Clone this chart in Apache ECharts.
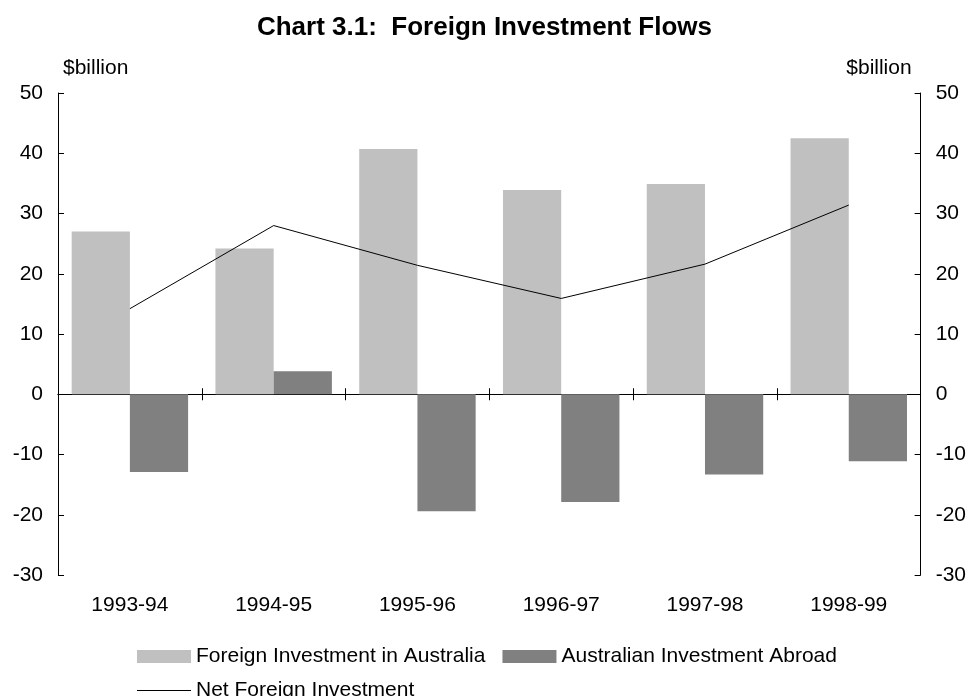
<!DOCTYPE html>
<html>
<head>
<meta charset="utf-8">
<script src="https://cdn.jsdelivr.net/npm/echarts@6/dist/echarts.min.js"></script>
<style>
  html, body { margin: 0; padding: 0; background: #fff; }
  #chart { width: 969px; height: 696px; }
</style>
</head>
<body>
<div id="chart"></div>
<script>
// 数据
var years = ["1993-94", "1994-95", "1995-96", "1996-97", "1997-98", "1998-99"];
var foreignInAus = [27.0, 24.2, 40.7, 33.9, 34.9, 42.5];
var ausAbroad = [-12.9, 3.8, -19.4, -17.9, -13.3, -11.1];
var netForeign = [14.2, 28.0, 21.4, 15.9, 21.6, 31.4];

var fontName = "'Liberation Sans', Arial, sans-serif";
var txt = { color: "#000", fontFamily: fontName, fontSize: 21 };

// x轴：一个放标签，两个画零线上的刻度（上下各一段）
function zeroAxis(inside) {
  return {
    type: "category",
    data: years,
    position: "bottom",
    axisLine: { show: true, onZero: true, onZeroAxisIndex: 0, lineStyle: { color: "#000", width: 1 } },
    axisTick: { show: true, inside: inside, length: 6, interval: 0, lineStyle: { color: "#000" } },
    axisLabel: { show: false },
    splitLine: { show: false }
  };
}

function valueAxis(pos) {
  return {
    type: "value",
    position: pos,
    min: -30,
    max: 50,
    interval: 10,
    name: "$billion",
    nameLocation: "end",
    nameGap: 14,
    nameTextStyle: Object.assign({}, txt, {
      align: pos == "left" ? "left" : "right",
      padding: pos == "left" ? [0, 0, 0, 5] : [0, 9, 0, 0]
    }),
    axisLine: { show: true, lineStyle: { color: "#000", width: 1 } },
    axisTick: { show: true, inside: true, length: 6, lineStyle: { color: "#000" } },
    axisLabel: Object.assign({}, txt, { margin: 15 }),
    splitLine: { show: false }
  };
}

var option = {
  animation: false,
  backgroundColor: "#fff",
  title: {
    text: "Chart 3.1:  Foreign Investment Flows",
    left: "center",
    top: 10,
    textStyle: { color: "#000", fontFamily: fontName, fontSize: 26, fontWeight: "bold" }
  },
  grid: { left: 58, right: 48, top: 93, bottom: 121 },
  legend: [
    {
      data: ["Foreign Investment in Australia", "Australian Investment Abroad"],
      left: 132,
      top: 641,
      itemWidth: 54,
      itemHeight: 13,
      itemGap: 17,
      icon: "rect",
      textStyle: txt
    },
    {
      data: ["Net Foreign Investment"],
      left: 132,
      top: 675,
      itemWidth: 54,
      itemHeight: 1,
      icon: "rect",
      textStyle: txt
    }
  ],
  xAxis: [
    {
      type: "category",
      data: years,
      position: "bottom",
      axisLine: { show: false, onZero: false },
      axisTick: { show: false },
      axisLabel: Object.assign({}, txt, { margin: 20 }),
      splitLine: { show: false }
    },
    zeroAxis(true),
    zeroAxis(false)
  ],
  yAxis: [valueAxis("left"), valueAxis("right")],
  series: [
    {
      name: "Foreign Investment in Australia",
      type: "bar",
      data: foreignInAus,
      barGap: "0%",
      barCategoryGap: "19%",
      itemStyle: { color: "#c0c0c0" }
    },
    {
      name: "Australian Investment Abroad",
      type: "bar",
      data: ausAbroad,
      itemStyle: { color: "#808080" }
    },
    {
      name: "Net Foreign Investment",
      type: "line",
      data: netForeign,
      symbol: "none",
      lineStyle: { color: "#000", width: 1 },
      itemStyle: { color: "#000" },
      z: 5
    }
  ]
};

var chart = echarts.init(document.getElementById("chart"));
chart.setOption(option);
</script>
</body>
</html>
